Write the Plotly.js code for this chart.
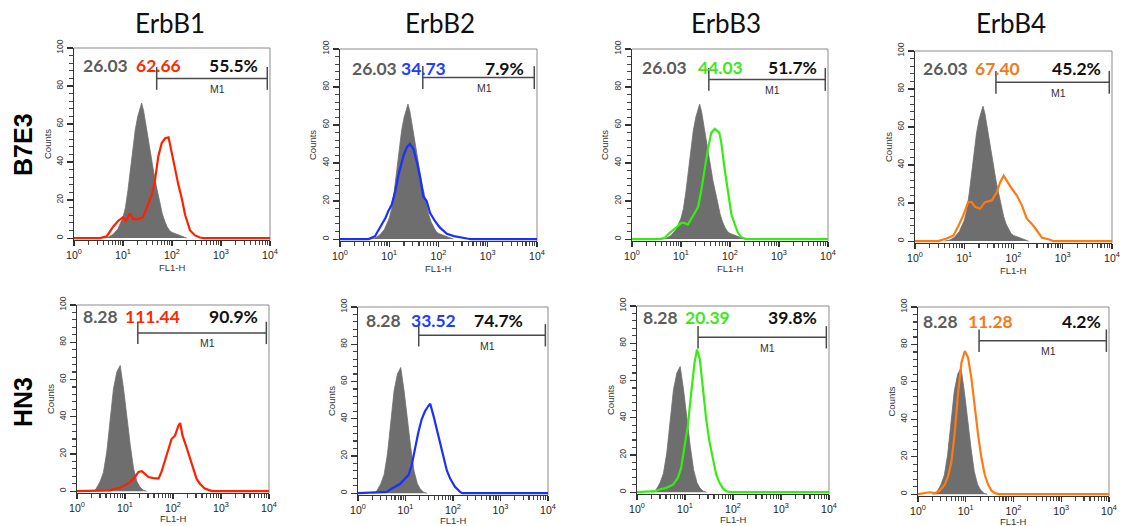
<!DOCTYPE html>
<html>
<head>
<meta charset="utf-8">
<script src="https://cdn.plot.ly/plotly-3.0.1.min.js"></script>
<style>html,body{margin:0;padding:0;background:#fff;}#chart{width:1128px;height:526px;}</style>
</head>
<body>
<div id="chart"></div>
<script>
// ---------------- DATA ----------------
const columns = ['ErbB1', 'ErbB2', 'ErbB3', 'ErbB4'];
const cellLines = ['B7E3', 'HN3'];
const ctrlMean = ['26.03', '8.28'];
const sampleMean = [['62.66', '34.73', '44.03', '67.40'], ['111.44', '33.52', '20.39', '11.28']];
const pctM1 = [['55.5%', '7.9%', '51.7%', '45.2%'], ['90.9%', '74.7%', '39.8%', '4.2%']];
const m1Start = [[48.7, 48, 37, 44], [18.5, 19, 18.7, 19]];
const m1End = 8800;
const xTickVals = [1, 10, 100, 1000, 10000];
const xTickText = ['10<sup>0</sup>', '10<sup>1</sup>', '10<sup>2</sup>', '10<sup>3</sup>', '10<sup>4</sup>'];
const yTickVals = [0, 20, 40, 60, 80, 100];

// control (isotype) histograms
const ctrlB7E3_x = [3.98, 5.01, 6.31, 7.94, 10, 11.2, 12.6, 14.1, 15.8, 17.8, 20, 22.4, 24, 26.3, 28.2, 31.6, 35.5, 39.8, 44.7, 50.1, 56.2, 63.1, 70.8, 79.4, 89.1, 100, 126, 158, 200];
const ctrlB7E3_y = [0, 0.5, 2, 5, 11, 16, 25, 36, 48, 57, 64, 69, 71, 67, 62, 54, 46, 38, 31, 25, 19, 13, 9, 6, 4, 3, 2, 1, 0];
const ctrlHN3_x = [2, 2.4, 3.02, 3.55, 4.17, 4.9, 5.75, 6.76, 7.94, 9.33, 11, 12.9, 15.1, 17.8, 20.4, 24, 28.2];
const ctrlHN3_y = [0, 0.5, 5, 10, 21, 39, 55, 64, 67.5, 55, 39, 24.5, 12, 5, 2.3, 0.5, 0];

// B7E3 stained histograms
const b7e3_erbb1_x = [1, 3.39, 4.68, 6.31, 7.94, 10, 11.5, 13.8, 16.2, 20.4, 25.7, 30.2, 38.9, 44.7, 52.5, 61.7, 72.4, 85.1, 97.7, 115, 135, 158, 186, 234, 295, 372, 450, 10000];
const b7e3_erbb1_y = [0, 0, 1, 6, 9, 11, 9, 13, 10, 10, 11, 16, 23, 30, 43, 50, 52.5, 53, 45, 36.5, 28, 21, 12, 4, 1.4, 0.3, 0, 0];
const b7e3_erbb2_x = [1, 3.8, 5.13, 6.46, 8.32, 9.55, 11.2, 13.2, 15.5, 19.5, 22.9, 26.3, 30.9, 36.3, 42.7, 49, 57.5, 67.6, 85.1, 107, 148, 204, 257, 380, 450, 10000];
const b7e3_erbb2_y = [0, 0, 1.5, 6, 11, 14.6, 18, 25, 34, 44, 48.4, 50, 47.5, 40.6, 32, 22.4, 20, 13.7, 9.4, 6, 2.8, 1.6, 1, 0.3, 0, 0];
const b7e3_erbb3_x = [1, 3.63, 4.68, 5.89, 7.94, 10.2, 11.7, 13.8, 17.4, 22.4, 25.7, 30.2, 35.5, 41.7, 49, 60.3, 66.1, 77.6, 91.2, 107, 126, 145, 170, 214, 10000];
const b7e3_erbb3_y = [0, 0, 0.7, 3.3, 6, 8.5, 8.5, 7.6, 12, 17, 25, 37, 47.5, 56, 58, 56, 51, 37, 25, 12.8, 7.6, 3.3, 1, 0, 0];
const b7e3_erbb4_x = [1, 2.95, 4.37, 6.03, 7.59, 9.55, 12, 14.1, 16.6, 20.9, 26.3, 36.3, 45.7, 53.7, 63.1, 72.4, 93.3, 117, 148, 186, 234, 295, 380, 513, 646, 10000];
const b7e3_erbb4_y = [0, 0, 1.4, 3, 8, 13.5, 20.5, 20.5, 18, 17, 20.5, 21.4, 25.7, 31, 34.4, 31.8, 27.4, 24, 18.8, 11.8, 9.2, 5.7, 1.7, 1, 0, 0];

// HN3 stained histograms
const hn3_erbb1_x = [1, 4.9, 6.31, 7.94, 10, 12.9, 16.2, 19.1, 22.4, 26.3, 30.9, 38.9, 50.1, 57.5, 67.6, 79.4, 93.3, 110, 129, 141, 158, 186, 224, 263, 309, 363, 457, 589, 646, 10000];
const hn3_erbb1_y = [0, 0.4, 1.4, 1.8, 3.2, 5, 7.6, 10.3, 10.7, 9.4, 7.6, 7, 6.7, 10.3, 16.5, 22.7, 28, 29.8, 35, 36.6, 29.8, 24.5, 18.3, 12, 6.7, 4, 1.4, 0.4, 0, 0];
const hn3_erbb2_x = [1, 4.07, 4.79, 6.03, 7.76, 9.77, 11.5, 13.5, 15.8, 18.6, 21.9, 25.7, 30.2, 33.1, 38.9, 45.7, 53.7, 63.1, 74.1, 87.1, 110, 141, 158, 10000];
const hn3_erbb2_y = [0, 0.7, 2, 3.4, 5, 7.8, 9.6, 15, 23.8, 32.6, 39.7, 44, 46.8, 48, 41.5, 34.4, 27.3, 19.3, 12.2, 7.8, 3.4, 0.7, 0, 0];
const hn3_erbb3_x = [1, 2.34, 2.95, 4.07, 5.62, 7.08, 8.32, 9.77, 11.5, 13.5, 15.8, 17.8, 20.4, 23.4, 27.5, 32.4, 38, 44.7, 52.5, 61.7, 72.4, 89.1, 10000];
const hn3_erbb3_y = [0, 0.5, 1.4, 2.3, 4, 7.6, 13, 23.5, 36, 53.6, 69.6, 76.6, 71.3, 57, 39.5, 27, 17.3, 9.4, 5, 2, 0.5, 0, 0];
const hn3_erbb4_x = [1, 1.74, 2.24, 2.82, 3.63, 4.27, 5.01, 5.89, 6.92, 8.13, 9.55, 11.2, 13.2, 15.5, 18.2, 21.4, 25.1, 29.5, 34.7, 40.7, 50.1, 10000];
const hn3_erbb4_y = [0, 1, 0.5, 1.8, 5, 9.4, 17.3, 33, 54.4, 70.3, 76.5, 73, 61.5, 45.6, 31.4, 19, 10.2, 5, 1.8, 0.5, 0, 0];

// ---------------- BUILD ----------------
const ctrlSeries = [[ctrlB7E3_x, ctrlB7E3_y], [ctrlHN3_x, ctrlHN3_y]];
const stained = [
  [[b7e3_erbb1_x, b7e3_erbb1_y], [b7e3_erbb2_x, b7e3_erbb2_y], [b7e3_erbb3_x, b7e3_erbb3_y], [b7e3_erbb4_x, b7e3_erbb4_y]],
  [[hn3_erbb1_x, hn3_erbb1_y], [hn3_erbb2_x, hn3_erbb2_y], [hn3_erbb3_x, hn3_erbb3_y], [hn3_erbb4_x, hn3_erbb4_y]]
];

const W = 1128, H = 526;
const lineColors = ['#ff2000', '#1a30ff', '#33ee10', '#ff7a12'];
const textColors = ['#ff2a00', '#1f3cff', '#3fe81c', '#f57a1c'];
// panel boxes in pixels [left, right, top, bottom]
const boxes = [
  [[74, 270, 48, 240], [340, 537, 49, 241], [632, 828, 49, 241], [915, 1112, 51, 243]],
  [[77, 269, 305, 493], [358, 548, 307, 495], [637, 829, 306, 494], [918, 1109, 307, 496]]
];
// text centre pixels [ctrlX, sampleX, pctX, y]
const textPos = [
  [[105, 158, 233, 65], [374, 423, 504, 68], [665, 720, 792, 67], [945, 997, 1076, 68]],
  [[100, 152, 233, 316], [383, 433, 498, 320], [660, 707, 792, 317], [940, 990, 1081, 321]]
];
const bracketY = [[84, 85, 84, 83.5], [85, 84.8, 83.2, 82]];
const titleX = [170, 440, 726, 1011];
const fl1Offset = [27, 25];

const px = v => v / W;
const py = v => 1 - v / H;

const minorX = [2,3,4,5,6,7,8,9,20,30,40,50,60,70,80,90,200,300,400,500,600,700,800,900,2000,3000,4000,5000,6000,7000,8000,9000];

const traces = [];
const layout = {
  width: W, height: H,
  margin: {l: 0, r: 0, t: 0, b: 0},
  paper_bgcolor: '#fff', plot_bgcolor: '#fff',
  showlegend: false,
  shapes: [], annotations: []
};

const numFont = {family: 'Lato, sans-serif', size: 17.5};
const smallFont = {family: 'Liberation Sans, Arial, sans-serif', size: 9.5, color: '#333'};

let k = 0;
for (let r = 0; r < 2; r++) {
  for (let c = 0; c < 4; c++) {
    k++;
    const xa = 'x' + (k === 1 ? '' : k), ya = 'y' + (k === 1 ? '' : k);
    const xk = 'xaxis' + (k === 1 ? '' : k), yk = 'yaxis' + (k === 1 ? '' : k);
    const b = boxes[r][c];
    layout[xk] = {
      type: 'log', range: [0, 4], domain: [px(b[0]), px(b[1])], anchor: ya,
      tickmode: 'array', tickvals: xTickVals, ticktext: xTickText,
      ticks: 'outside', ticklen: 5, tickwidth: 1.2, tickcolor: '#333',
      minor: {tickmode: 'array', tickvals: minorX, ticks: 'outside', ticklen: 4, tickwidth: 1.2, tickcolor: '#444', showgrid: false},
      showline: true, linecolor: '#333', linewidth: 1.2,
      showgrid: false, zeroline: false,
      tickfont: {family: 'Liberation Sans, Arial, sans-serif', size: 10.5, color: '#222'},
      fixedrange: true
    };
    layout[yk] = {
      range: [-1, 100], domain: [py(b[3]), py(b[2])], anchor: xa,
      tickmode: 'array', tickvals: yTickVals, tickangle: -90,
      ticks: 'outside', ticklen: 6, tickwidth: 1.2, tickcolor: '#333',
      minor: {dtick: 4, tick0: 0, ticks: 'outside', ticklen: 4, tickwidth: 1.2, tickcolor: '#444', showgrid: false},
      showline: true, linecolor: '#333', linewidth: 1.2,
      showgrid: false, zeroline: false,
      tickfont: {family: 'Liberation Sans, Arial, sans-serif', size: 8.5, color: '#333'},
      fixedrange: true
    };
    // control histogram (filled grey)
    traces.push({
      type: 'scatter', mode: 'lines', x: ctrlSeries[r][0], y: ctrlSeries[r][1],
      xaxis: xa, yaxis: ya, fill: 'tozeroy', fillcolor: '#6e6e6e',
      line: {color: '#6e6e6e', width: 0.8}, hoverinfo: 'skip'
    });
    // stained histogram
    traces.push({
      type: 'scatter', mode: 'lines', x: stained[r][c][0], y: stained[r][c][1],
      xaxis: xa, yaxis: ya, line: {color: lineColors[c], width: 2.2}, hoverinfo: 'skip'
    });
    // frame top/right
    layout.shapes.push({type: 'line', xref: xa + ' domain', yref: ya + ' domain', x0: 0, x1: 1, y0: 1, y1: 1, line: {color: '#8a8a8a', width: 1}, layer: 'below'});
    layout.shapes.push({type: 'line', xref: xa + ' domain', yref: ya + ' domain', x0: 1, x1: 1, y0: 0, y1: 1, line: {color: '#8a8a8a', width: 1}, layer: 'below'});
    // M1 bracket
    const s = m1Start[r][c], by = bracketY[r][c];
    const bl = {color: '#4a4a4a', width: 1.5};
    layout.shapes.push({type: 'line', xref: xa, yref: ya, x0: s, x1: m1End, y0: by, y1: by, line: bl});
    layout.shapes.push({type: 'line', xref: xa, yref: ya, x0: s, x1: s, y0: by - 6, y1: by + 6, line: bl});
    layout.shapes.push({type: 'line', xref: xa, yref: ya, x0: m1End, x1: m1End, y0: by - 6, y1: by + 6, line: bl});
    layout.annotations.push({
      xref: xa, yref: ya, x: (Math.log10(s) + Math.log10(m1End)) / 2 + 0.12, y: by - 5.5,
      text: 'M1', showarrow: false, xanchor: 'center', yanchor: 'middle',
      font: {family: 'Liberation Sans, Arial, sans-serif', size: 10.5, color: '#333'}
    });
    // numbers
    const tp = textPos[r][c];
    layout.annotations.push({xref: 'paper', yref: 'paper', x: px(tp[0]), y: py(tp[3]), text: '<b>' + ctrlMean[r] + '</b>', showarrow: false, xanchor: 'center', yanchor: 'middle', font: Object.assign({}, numFont, {color: '#5c5c5c'})});
    layout.annotations.push({xref: 'paper', yref: 'paper', x: px(tp[1]), y: py(tp[3]), text: '<b>' + sampleMean[r][c] + '</b>', showarrow: false, xanchor: 'center', yanchor: 'middle', font: Object.assign({}, numFont, {color: textColors[c]})});
    layout.annotations.push({xref: 'paper', yref: 'paper', x: px(tp[2]), y: py(tp[3]), text: '<b>' + pctM1[r][c] + '</b>', showarrow: false, xanchor: 'center', yanchor: 'middle', font: Object.assign({}, numFont, {color: '#111'})});
    // axis titles
    layout.annotations.push({xref: 'paper', yref: 'paper', x: px(b[0] - 27), y: py((b[2] + b[3]) / 2), text: 'Counts', textangle: -90, showarrow: false, xanchor: 'center', yanchor: 'middle', font: smallFont});
    layout.annotations.push({xref: 'paper', yref: 'paper', x: px((b[0] + b[1]) / 2), y: py(b[3] + fl1Offset[r]), text: 'FL1-H', showarrow: false, xanchor: 'center', yanchor: 'middle', font: smallFont});
  }
}
// column titles
columns.forEach((t, i) => {
  layout.annotations.push({xref: 'paper', yref: 'paper', x: px(titleX[i]), y: py(23), text: t, showarrow: false, xanchor: 'center', yanchor: 'middle', font: {family: 'Lato, sans-serif', size: 26, color: '#111'}});
});
// row labels
const rowY = [145, 402];
cellLines.forEach((t, i) => {
  layout.annotations.push({xref: 'paper', yref: 'paper', x: px(23), y: py(rowY[i]), text: '<b>' + t + '</b>', textangle: -90, showarrow: false, xanchor: 'center', yanchor: 'middle', font: {family: 'Liberation Sans, Arial, sans-serif', size: 25, color: '#000'}});
});

Plotly.newPlot('chart', traces, layout, {staticPlot: true, displayModeBar: false});
</script>
</body>
</html>
